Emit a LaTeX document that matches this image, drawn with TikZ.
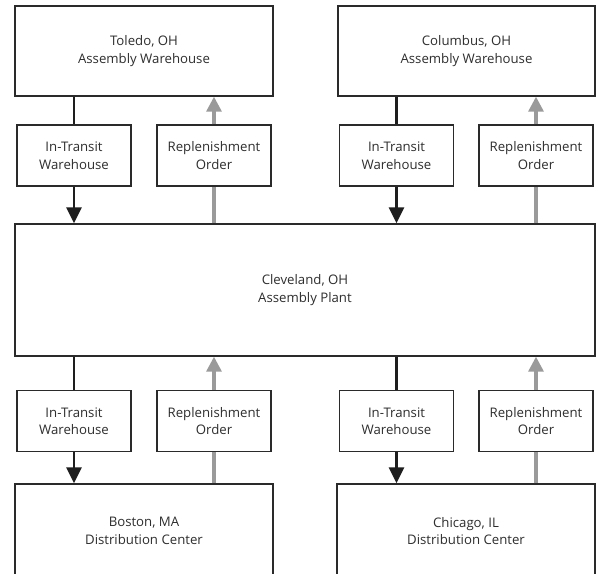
\documentclass[tikz,border=0pt]{standalone}
\usepackage{fontspec}
\setmainfont{Open Sans}
\usetikzlibrary{arrows.meta}
\definecolor{boxc}{HTML}{2A2A2A}
\definecolor{greyc}{HTML}{9A9A9A}
\definecolor{blk}{HTML}{1E1E1E}
\definecolor{txt}{HTML}{2E2E2E}
\begin{document}
\begin{tikzpicture}[x=1pt,y=-1pt,
  box/.style={draw=boxc,line width=1.4pt,align=center,inner sep=0pt,
    font=\fontsize{13.2}{17.5}\selectfont,text=txt},
  big/.style={box,minimum width=258pt,minimum height=90pt},
  small/.style={box,minimum width=114pt,minimum height=61pt},
  flow/.style={draw=blk,line width=2.8pt},
  flowa/.style={flow,-{Triangle[width=15pt,length=16pt]}},
  back/.style={draw=greyc,line width=3.2pt},
  backa/.style={back,-{Triangle[width=15pt,length=15pt]}}]
\useasboundingbox[clip] (0,0) rectangle (599,573);
\fill[white] (0,0) rectangle (599,573);
\node[big] (toledo) at (144,51) {Toledo, OH\\Assembly Warehouse};
\node[big,minimum width=257pt] (columbus) at (466.5,51) {Columbus, OH\\Assembly Warehouse};
\node[box,minimum width=580pt,minimum height=132pt] (cleve) at (305,290) {Cleveland, OH\\Assembly Plant};
\node[small] (it1) at (74,155.5) {In-Transit\\Warehouse};
\node[small] (ro1) at (214,155.5) {Replenishment\\Order};
\node[small] (it2) at (396.5,155.5) {In-Transit\\Warehouse};
\node[small] (ro2) at (536,155.5) {Replenishment\\Order};
\node[small] (it3) at (74,421) {In-Transit\\Warehouse};
\node[small] (ro3) at (214,421) {Replenishment\\Order};
\node[small] (it4) at (396.5,421) {In-Transit\\Warehouse};
\node[small] (ro4) at (536,421) {Replenishment\\Order};
\node[big,minimum height=94pt] (boston) at (144,531) {Boston, MA\\Distribution Center};
\node[big,minimum height=94pt] (chicago) at (466,531) {Chicago, IL\\Distribution Center};
% top-left
\draw[flow] (toledo.south -| it1.north) -- (it1.north);
\draw[flowa] (it1.south) -- (it1.south |- cleve.north);
\draw[back] (cleve.north -| ro1.south) -- (ro1.south);
\draw[backa] (ro1.north) -- (ro1.north |- toledo.south);
% top-right
\draw[flow] (columbus.south -| it2.north) -- (it2.north);
\draw[flowa] (it2.south) -- (it2.south |- cleve.north);
\draw[back] (cleve.north -| ro2.south) -- (ro2.south);
\draw[backa] (ro2.north) -- (ro2.north |- columbus.south);
% bottom-left
\draw[flow] (cleve.south -| it3.north) -- (it3.north);
\draw[flowa] (it3.south) -- (it3.south |- boston.north);
\draw[back] (boston.north -| ro3.south) -- (ro3.south);
\draw[backa] (ro3.north) -- (ro3.north |- cleve.south);
% bottom-right
\draw[flow] (cleve.south -| it4.north) -- (it4.north);
\draw[flowa] (it4.south) -- (it4.south |- chicago.north);
\draw[back] (chicago.north -| ro4.south) -- (ro4.south);
\draw[backa] (ro4.north) -- (ro4.north |- cleve.south);
\end{tikzpicture}
\end{document}
